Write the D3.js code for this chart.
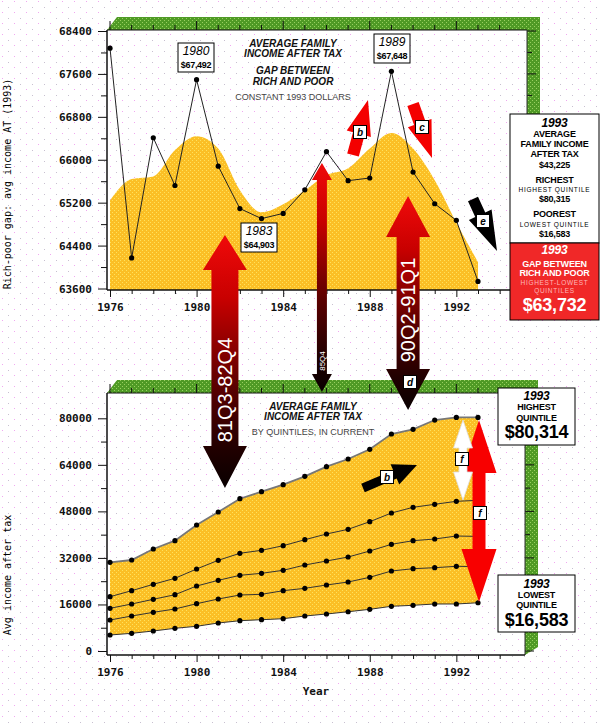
<!DOCTYPE html>
<html><head><meta charset="utf-8">
<script src="https://cdn.jsdelivr.net/npm/d3@7"></script>
<style>body{margin:0;background:#fff}svg{display:block}</style>
</head><body><svg id="c" width="600" height="725"></svg>
<script>
// ---------- DATA ----------
const years = [1976,1977,1978,1979,1980,1981,1982,1983,1984,1985,1986,1987,1988,1989,1990,1991,1992,1993];
// Rich-poor gap, avg income after tax, constant 1993 dollars
const gapValues = [68080,64170,66410,65520,67492,65880,65090,64903,65000,65440,66150,65610,65660,67648,65770,65180,64870,63732];
// smoothed trend drawn as yellow area behind the gap line
const gapTrend  = [65240,65640,65690,66180,66440,66210,65430,65020,65170,65430,65710,65840,66210,66500,66210,65620,64830,64090];
// Average income after tax by quintile, current dollars
const q5 = [30490,31280,35060,37920,43310,47780,52360,54770,57180,60050,63360,66000,69340,74600,76200,79400,80300,80314];
const q4 = [18670,20730,22930,24990,28190,31180,33590,34620,36200,38260,40220,41840,44450,47440,49400,50430,51460,51800];
const q3 = [14680,16160,17770,19350,22340,24300,26020,26710,27740,29560,30940,32310,34380,36680,37920,38500,39530,39400];
const q2 = [10660,12030,13300,14440,16260,17880,19250,19490,20730,21550,22690,23720,25340,27500,28290,28640,29120,29000];
const q1 = [5500,6080,6880,7800,8490,9630,10420,10760,11100,12030,12720,13500,14330,15370,15710,16160,16160,16583];
const yearTicks = [1976,1977,1978,1979,1980,1981,1982,1983,1984,1985,1986,1987,1988,1989,1990,1991,1992,1993,1994];
const yearLabels = [1976,1980,1984,1988,1992];
const topTicks = [68400,67600,66800,66000,65200,64400,63600];
const topTickLabels = ["68400","67600","66800","66000","65200","64400","63600"];
const topMinor = [68000,67200,66400,65600,64800,64000];
const botTicks = [80000,64000,48000,32000,16000,0];
const botTickLabels = ["80000","64000","48000","32000","16000","0"];
const botMinor = [72000,56000,40000,24000,8000];
const peakLabels = [
  {year:"1980", val:"$67,492", cx:196, y:43},
  {year:"1989", val:"$67,648", cx:392, y:34},
  {year:"1983", val:"$64,903", cx:259, y:223}
];

// ---------- SETUP ----------
const svg = d3.select("#c");
const defs = svg.append("defs");
function dotPattern(id, w, h, base, dots){
  const p = defs.append("pattern").attr("id",id).attr("width",w).attr("height",h).attr("patternUnits","userSpaceOnUse");
  if (base) p.append("rect").attr("width",w).attr("height",h).attr("fill",base);
  dots.forEach(d=>p.append("rect").attr("x",d[0]).attr("y",d[1]).attr("width",1).attr("height",1).attr("fill",d[2]));
}
dotPattern("bgdots",12,11,null,[[2,1,"#f0a8f0"],[8,7,"#c8c0d0"]]);
dotPattern("yel",4,4,"#fbbf25",[[0,0,"#ffe25c"],[2,2,"#ffe25c"]]);
dotPattern("grn",4,4,"#4f9a25",[[0,0,"#98d060"],[2,2,"#98d060"]]);
svg.append("rect").attr("width",600).attr("height",725).attr("fill","#fff");
svg.append("rect").attr("width",600).attr("height",725).attr("fill","url(#bgdots)");

const GREEN = "url(#grn)", YEL = "url(#yel)";
const mono = "'DejaVu Sans Mono', monospace";
const sans = "'Liberation Sans', Arial, sans-serif";

const x = d3.scaleLinear().domain([1976,1993]).range([110,478]);
const yT = d3.scaleLinear().domain([63600,68400]).range([288.5,31]);
const yB = d3.scaleLinear().domain([0,80000]).range([651,418.3]);

function frame(L,R,T,B,yScale,majors,minors){
  const g = svg.append("g");
  g.append("path").attr("d",`M${L},${T}L${L+10},${T-13}L${R+13},${T-13}L${R+13},${B-8}L${R},${B}L${R},${T}Z`).attr("fill",GREEN);
  yearTicks.forEach(yr=>{
    const xx = x(yr); const len = yr%4===0?9:5;
    g.append("line").attr("x1",xx).attr("x2",xx).attr("y1",T).attr("y2",T-len).attr("stroke","#111").attr("stroke-width",1);
  });
  majors.forEach(v=>g.append("line").attr("x1",R).attr("x2",R+9).attr("y1",yScale(v)).attr("y2",yScale(v)).attr("stroke","#111"));
  minors.forEach(v=>g.append("line").attr("x1",R).attr("x2",R+5).attr("y1",yScale(v)).attr("y2",yScale(v)).attr("stroke","#111"));
  g.append("line").attr("x1",L).attr("x2",R).attr("y1",T).attr("y2",T).attr("stroke","#111").attr("stroke-width",1.2);
  g.append("line").attr("x1",R).attr("x2",R).attr("y1",T).attr("y2",B).attr("stroke","#333").attr("stroke-width",1);
  return g;
}
function axes(L,R,T,B,yScale,majors,labels,minors){
  const g = svg.append("g");
  const ya = d3.axisLeft(yScale).tickValues(majors).tickSize(9).tickFormat((d,i)=>labels[i]);
  const ga = g.append("g").attr("transform",`translate(${L},0)`).call(ya);
  ga.select(".domain").remove();
  ga.selectAll("text").attr("font-family",mono).attr("font-size",11).attr("font-weight","bold").attr("fill","#111").attr("dx",-3);
  ga.selectAll("line").attr("stroke","#111");
  const ym = d3.axisLeft(yScale).tickValues(minors).tickSize(6).tickFormat("");
  const gm = g.append("g").attr("transform",`translate(${L},0)`).call(ym);
  gm.select(".domain").remove(); gm.selectAll("line").attr("stroke","#111");
  const xa = d3.axisBottom(x).tickValues(yearTicks).tickSize(7).tickFormat(d=>yearLabels.includes(d)?String(d):"");
  const gx = g.append("g").attr("transform",`translate(0,${B})`).call(xa);
  gx.select(".domain").remove();
  gx.selectAll(".tick line").attr("stroke","#111").attr("y2",d=>yearLabels.includes(d)?7:4);
  gx.selectAll("text").attr("font-family",mono).attr("font-size",11).attr("font-weight","bold").attr("fill","#111").attr("y",10).attr("dy","1.0em");
  g.append("line").attr("x1",L).attr("x2",L).attr("y1",T).attr("y2",B).attr("stroke","#111").attr("stroke-width",1.5);
  g.append("line").attr("x1",L).attr("x2",R).attr("y1",B).attr("y2",B).attr("stroke","#111").attr("stroke-width",1.5);
}

// ---------- TOP CHART ----------
const TL=107,TR=527,TT=30,TB=290;
frame(TL,TR,TT,TB,yT,topTicks,topMinor);
svg.append("path").datum(years.map((y,i)=>[y,gapTrend[i]]))
  .attr("d",d3.area().x(d=>x(d[0])).y0(TB).y1(d=>yT(d[1])).curve(d3.curveMonotoneX))
  .attr("fill",YEL);
axes(TL,TR,TT,TB,yT,topTicks,topTickLabels,topMinor);
svg.append("path").datum(years.map((y,i)=>[y,gapValues[i]]))
  .attr("d",d3.line().x(d=>x(d[0])).y(d=>yT(d[1])))
  .attr("fill","none").attr("stroke","#222").attr("stroke-width",1);
svg.append("g").selectAll("circle").data(years.map((y,i)=>[y,gapValues[i]])).join("circle")
  .attr("cx",d=>x(d[0])).attr("cy",d=>yT(d[1])).attr("r",2.6).attr("fill","#000");

function titleBlock(cx, lines){
  lines.forEach(l=>svg.append("text").attr("x",cx).attr("y",l.y).attr("text-anchor","middle")
    .attr("font-family",sans).attr("font-size",l.size).attr("font-weight",l.bold?"bold":"normal")
    .attr("font-style",l.italic?"italic":"normal").attr("fill",l.fill||"#111").attr("letter-spacing",l.ls||0).text(l.t));
}
titleBlock(293,[
  {t:"AVERAGE FAMILY",y:47,size:10,bold:1,italic:1},
  {t:"INCOME AFTER TAX",y:57,size:10,bold:1,italic:1},
  {t:"GAP BETWEEN",y:74,size:10,bold:1,italic:1},
  {t:"RICH AND POOR",y:85,size:10,bold:1,italic:1},
  {t:"CONSTANT 1993 DOLLARS",y:100,size:9,fill:"#444"}
]);
function peakBox(p){
  svg.append("rect").attr("x",p.cx-18).attr("y",p.y).attr("width",36).attr("height",29).attr("fill","#fff").attr("stroke","#000").attr("stroke-width",1);
  svg.append("text").attr("x",p.cx).attr("y",p.y+12).attr("text-anchor","middle").attr("font-family",sans).attr("font-size",12).attr("font-style","italic").attr("fill","#000").text(p.year);
  svg.append("text").attr("x",p.cx).attr("y",p.y+25).attr("text-anchor","middle").attr("font-family",sans).attr("font-size",9).attr("font-weight","bold").attr("letter-spacing",-0.3).attr("fill","#000").text(p.val);
}
peakLabels.filter(p=>p.year!=="1983").forEach(peakBox);

// ---------- BOTTOM CHART ----------
const BL=107,BR=525,BT=393,BB=655;
frame(BL,BR,BT,BB,yB,botTicks,botMinor);
svg.append("path").datum(years.map((y,i)=>[y,q1[i],q5[i]]))
  .attr("d",d3.area().x(d=>x(d[0])).y0(d=>yB(d[1])).y1(d=>yB(d[2])))
  .attr("fill",YEL);
axes(BL,BR,BT,BB,yB,botTicks,botTickLabels,botMinor);
[q1,q2,q3,q4].forEach(s=>{
  svg.append("path").datum(years.map((y,i)=>[y,s[i]]))
    .attr("d",d3.line().x(d=>x(d[0])).y(d=>yB(d[1])))
    .attr("fill","none").attr("stroke","#333").attr("stroke-width",1);
});
svg.append("path").datum(years.map((y,i)=>[y,q5[i]]))
  .attr("d",d3.line().x(d=>x(d[0])).y(d=>yB(d[1])))
  .attr("fill","none").attr("stroke","#777").attr("stroke-width",1.8);
[q1,q2,q3,q4,q5].forEach(s=>{
  svg.append("g").selectAll("circle").data(years.map((y,i)=>[y,s[i]])).join("circle")
    .attr("cx",d=>x(d[0])).attr("cy",d=>yB(d[1])).attr("r",2.6).attr("fill","#000");
});
titleBlock(313,[
  {t:"AVERAGE FAMILY",y:410,size:10,bold:1,italic:1},
  {t:"INCOME AFTER TAX",y:420,size:10,bold:1,italic:1},
  {t:"BY QUINTILES, IN CURRENT",y:435,size:9,fill:"#444"}
]);

// axis titles
svg.append("text").attr("transform","translate(11,184) rotate(-90)").attr("text-anchor","middle")
  .attr("font-family",mono).attr("font-size",10).attr("fill","#000").text("Rich-poor gap: avg income AT (1993)");
svg.append("text").attr("transform","translate(11,575) rotate(-90)").attr("text-anchor","middle")
  .attr("font-family",mono).attr("font-size",10).attr("fill","#000").text("Avg income after tax");
svg.append("text").attr("x",316).attr("y",695).attr("text-anchor","middle")
  .attr("font-family",mono).attr("font-size",11).attr("font-weight","bold").attr("fill","#111").text("Year");

// ---------- ANNOTATIONS ----------
const lineGen = d3.line();
function arrowPts(tail, tip, sw, hw, hl){
  const dx=tip[0]-tail[0], dy=tip[1]-tail[1], L=Math.hypot(dx,dy), ux=dx/L, uy=dy/L, nx=-uy, ny=ux;
  const nk=[tip[0]-ux*hl, tip[1]-uy*hl];
  const p=(b,s)=>[b[0]+nx*s, b[1]+ny*s];
  return [p(tail,sw/2), p(nk,sw/2), p(nk,hw/2), tip, p(nk,-hw/2), p(nk,-sw/2), p(tail,-sw/2)];
}
function vDouble(cx, tTop, bTop, bBot, tBot, sw, hw){
  return [[cx,tTop],[cx+hw/2,bTop],[cx+sw/2,bTop],[cx+sw/2,bBot],[cx+hw/2,bBot],[cx,tBot],[cx-hw/2,bBot],[cx-sw/2,bBot],[cx-sw/2,bTop],[cx-hw/2,bTop]];
}
function labelBox(cx, cy, t){
  svg.append("rect").attr("x",cx-6.5).attr("y",cy-6.5).attr("width",13).attr("height",13).attr("fill","#fff").attr("stroke","#000").attr("stroke-width",1);
  svg.append("text").attr("x",cx).attr("y",cy+3.5).attr("text-anchor","middle").attr("font-family",sans).attr("font-size",10).attr("font-weight","bold").attr("font-style","italic").attr("fill","#000").text(t);
}

const singles = [
  {tail:[353,155], tip:[368,100], sw:12, hw:25, hl:35, fill:"#f40000", lab:"b", lx:360, ly:132},
  {tail:[413,104], tip:[432,158], sw:12, hw:25, hl:37, fill:"#f40000", lab:"c", lx:422, ly:127},
  {tail:[473,199], tip:[497,251], sw:11, hw:25, hl:40, fill:"#000", lab:"e", lx:483, ly:221},
  {tail:[363,488], tip:[417,465], sw:9, hw:22, hl:24, fill:"#000", lab:"b", lx:387, ly:477}
];
singles.forEach(a=>{
  svg.append("path").attr("d",lineGen(arrowPts(a.tail,a.tip,a.sw,a.hw,a.hl))+"Z").attr("fill",a.fill);
});

const bigArrows = [
  {id:"g1", yr:1981.31, tTop:235, bTop:270, bBot:446, tBot:488, sw:27, hw:44, label:"81Q3-82Q4", size:20, ly:390},
  {id:"g2", yr:1985.79, tTop:163, bTop:180, bBot:374, tBot:392, sw:10, hw:20, label:"85Q4", size:8, ly:361},
  {id:"g3", yr:1989.77, tTop:196, bTop:237, bBot:369, tBot:410, sw:23, hw:44, label:"90Q2-91Q1", size:20, ly:310}
];
bigArrows.forEach(a=>{
  const gr = defs.append("linearGradient").attr("id",a.id).attr("gradientUnits","userSpaceOnUse")
    .attr("x1",0).attr("x2",0).attr("y1",a.tTop).attr("y2",a.tBot);
  [[0,"#f00a0a"],[0.25,"#c80000"],[0.6,"#5a0000"],[0.85,"#200000"],[1,"#080000"]].forEach(s=>gr.append("stop").attr("offset",s[0]).attr("stop-color",s[1]));
  const cx = x(a.yr);
  svg.append("path").attr("d",lineGen(vDouble(cx,a.tTop,a.bTop,a.bBot,a.tBot,a.sw,a.hw))+"Z").attr("fill",`url(#${a.id})`);
  svg.append("text").attr("transform",`translate(${cx},${a.ly}) rotate(-90)`).attr("text-anchor","middle").attr("dy","0.36em")
    .attr("font-family",sans).attr("font-size",a.size).attr("fill","#fff").text(a.label);
});

svg.append("path").attr("d",lineGen(vDouble(479,420,473,549,602,13,35))+"Z").attr("fill","#f80000");
svg.append("path").attr("d",lineGen(vDouble(463,420,448,472,500,8,19))+"Z").attr("fill","#fff").attr("stroke","#ddd").attr("stroke-width",0.8);

singles.forEach(a=>labelBox(a.lx,a.ly,a.lab));
labelBox(410,382,"d");
labelBox(480,513,"f");
labelBox(462,459,"f");

peakLabels.filter(p=>p.year==="1983").forEach(peakBox);

// right info box (top)
svg.append("rect").attr("x",510).attr("y",114).attr("width",89).attr("height",129).attr("fill","#fff").attr("stroke","#000");
svg.append("rect").attr("x",510).attr("y",243).attr("width",89).attr("height",77).attr("fill","#f02828").attr("stroke","#000");
const bx = 554.5;
const infoLines = [
  {t:"1993",y:127,s:12,b:1,i:1,f:"#000"},
  {t:"AVERAGE",y:137,s:9,b:1,f:"#000"},
  {t:"FAMILY INCOME",y:147,s:9,b:1,f:"#000"},
  {t:"AFTER TAX",y:157,s:9,b:1,f:"#000"},
  {t:"$43,225",y:168,s:9,b:1,f:"#000"},
  {t:"RICHEST",y:183,s:9,b:1,f:"#000"},
  {t:"HIGHEST QUINTILE",y:192,s:6.5,f:"#000",ls:0.7},
  {t:"$80,315",y:202,s:9,b:1,f:"#000"},
  {t:"POOREST",y:217,s:9,b:1,f:"#000"},
  {t:"LOWEST QUINTILE",y:227,s:6.5,f:"#000",ls:0.7},
  {t:"$16,583",y:237,s:9,b:1,f:"#000"},
  {t:"1993",y:254,s:12,b:1,i:1,f:"#fff"},
  {t:"GAP BETWEEN",y:267,s:9,b:1,f:"#fff"},
  {t:"RICH AND POOR",y:276,s:9,b:1,f:"#fff"},
  {t:"HIGHEST-LOWEST",y:285,s:6.5,f:"#ffb8b8",ls:0.7},
  {t:"QUINTILES",y:293,s:6.5,f:"#ffb8b8",ls:0.7},
  {t:"$63,732",y:311,s:18,b:1,f:"#fff"}
];
infoLines.forEach(l=>svg.append("text").attr("x",bx).attr("y",l.y).attr("text-anchor","middle")
  .attr("font-family",sans).attr("font-size",l.s).attr("font-weight",l.b?"bold":"normal").attr("font-style",l.i?"italic":"normal")
  .attr("letter-spacing",l.ls||-0.2).attr("fill",l.f).text(l.t));

const qBoxes = [
  {y:388, lines:[["1993",400,12,1,1],["HIGHEST",410,9,1,0],["QUINTILE",421,9,1,0],["$80,314",438,18,1,0]]},
  {y:575, lines:[["1993",588,12,1,1],["LOWEST",598,9,1,0],["QUINTILE",608,9,1,0],["$16,583",626,18,1,0]]}
];
qBoxes.forEach(b=>{
  svg.append("rect").attr("x",498).attr("y",b.y).attr("width",77).attr("height",57).attr("fill","#fff").attr("stroke","#000");
  b.lines.forEach(l=>svg.append("text").attr("x",536.5).attr("y",l[1]).attr("text-anchor","middle")
    .attr("font-family",sans).attr("font-size",l[2]).attr("font-weight",l[3]?"bold":"normal").attr("font-style",l[4]?"italic":"normal")
    .attr("letter-spacing",-0.2).attr("fill","#000").text(l[0]));
});
</script></body></html>
